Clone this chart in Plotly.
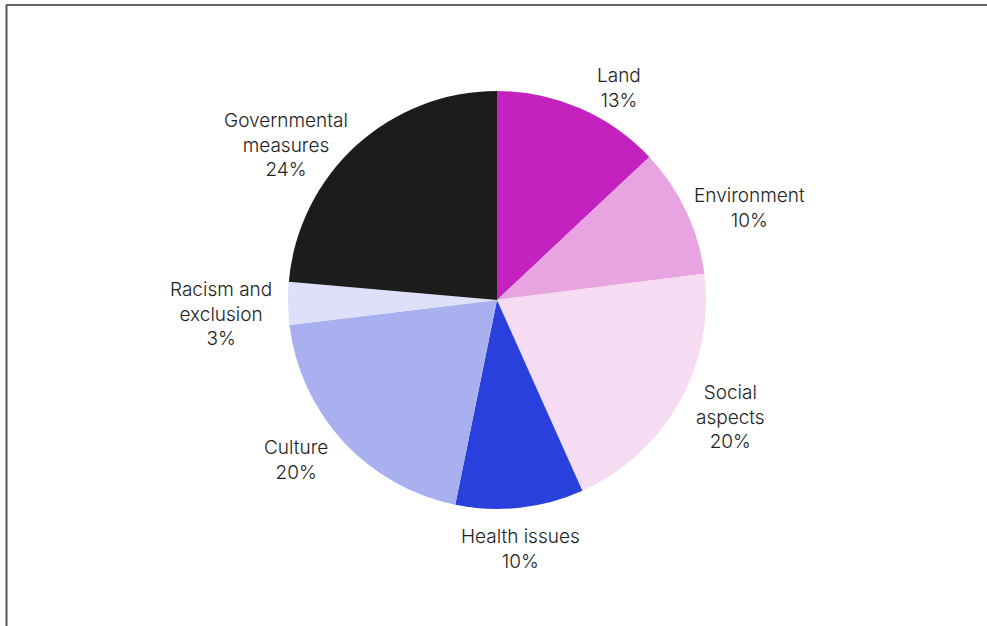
import math
import plotly.graph_objects as go

labels = ["Land", "Environment", "Social<br>aspects", "Health issues", "Culture",
          "Racism and<br>exclusion", "Governmental<br>measures"]
values = [13.0, 10.0, 20.3, 9.9, 19.9, 3.3, 23.6]
colors = ["#C422BE", "#E8A4E1", "#F5DCF3", "#2A40DC", "#A8B0F0", "#DEE0FA", "#1C1C1C"]

W, H = 987, 626
cx, cy, r = 497, 300, 209
FS = 19
LINE_H = 24
PAD = 15
CW = 0.49
# small layout nudges (px) for label placement
label_nudge = [(26, 16), (3, 14), (10, -10), (-8, 2), (-12, -8), (-5, 10), (-22, 37)]

fig = go.Figure(go.Pie(
    labels=labels,
    values=values,
    sort=False,
    direction="clockwise",
    rotation=0,
    marker=dict(colors=colors, line=dict(width=0)),
    textinfo="none",
    showlegend=False,
    domain=dict(x=[(cx - r) / W, (cx + r) / W], y=[1 - (cy + r) / H, 1 - (cy - r) / H]),
    hoverinfo="label+percent",
))

total = sum(values)
annotations = []
cum = 0.0
for i, (lab, v) in enumerate(zip(labels, values)):
    mid = (cum + v / 2) / total * 2 * math.pi
    cum += v
    ux, uy = math.sin(mid), -math.cos(mid)
    lines = lab.split("<br>") + ["%d%%" % round(v / total * 100)]
    w = max(len(s) for s in lines) * 18 * 0.52
    h = len(lines) * LINE_H
    px = cx + (r + PAD) * ux + ux * w / 2 + label_nudge[i][0]
    py = cy + (r + PAD) * uy + uy * h / 2 + label_nudge[i][1]
    annotations.append(dict(
        x=px / W, y=1 - py / H, xref="paper", yref="paper",
        text="<br>".join(lines), showarrow=False,
        xanchor="center", yanchor="middle", align="center",
        font=dict(family="Inter", size=FS, color="#222222", weight=300),
    ))

fig.update_layout(
    width=W, height=H,
    margin=dict(l=0, r=0, t=0, b=0),
    paper_bgcolor="white",
    plot_bgcolor="white",
    annotations=annotations,
    shapes=[
        dict(type="line", xref="paper", yref="paper", x0=6 / W, x1=1, y0=1 - 5 / H, y1=1 - 5 / H,
             line=dict(color="#666666", width=2)),
        dict(type="line", xref="paper", yref="paper", x0=6.5 / W, x1=6.5 / W, y0=0, y1=1 - 5 / H,
             line=dict(color="#555555", width=2)),
    ],
)

fig.write_html("out.html")
